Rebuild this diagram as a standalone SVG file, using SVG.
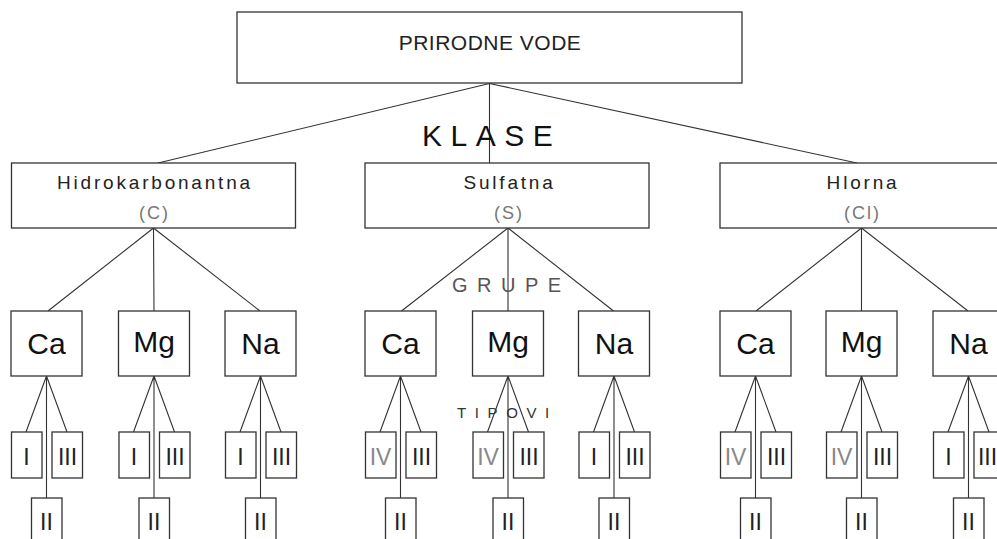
<svg xmlns="http://www.w3.org/2000/svg" width="997" height="539" viewBox="0 0 997 539">
<style>
rect{fill:#fff;stroke:#333;stroke-width:1.3}
.c path{fill:none;stroke:#333;stroke-width:1.1}
text{font-family:"Liberation Sans",Arial,sans-serif;text-anchor:middle;fill:#222}
.top{font-size:21px;letter-spacing:0.5px}
.cls{font-size:19px;letter-spacing:2.8px}
.sub{font-size:18px;fill:#777;letter-spacing:2px}
.grp{font-size:30px;fill:#111}
.t{font-size:23px;fill:#222}
.tg{font-size:23px;fill:#888}
.lab{text-anchor:start}
</style>
<rect width="997" height="539" style="fill:#fff;stroke:none"/>
<g class="c" id="connectors">
<path d="M489.5 83.5 L158 163 M489.5 83.5 V163 M489.5 83.5 L857 163"/>
<path d="M153.5 228 L48 311 M153.5 228 L154 311 M153.5 228 L260 311"/>
<path d="M508 228 L401.5 311 M508 228 V311 M508 228 L613.5 311"/>
<path d="M861.5 228 L756 311 M861.5 228 V311 M861.5 228 L968 311"/>
<path transform="translate(46.5 0)" d="M0 376 L-20.5 432 M0 376 L20.5 432 M0 376 V498"/>
<path transform="translate(154 0)" d="M0 376 L-20.5 432 M0 376 L20.5 432 M0 376 V498"/>
<path transform="translate(260.5 0)" d="M0 376 L-20.5 432 M0 376 L20.5 432 M0 376 V498"/>
<path transform="translate(400.5 0)" d="M0 376 L-20.5 432 M0 376 L20.5 432 M0 376 V498"/>
<path transform="translate(508 0)" d="M0 376 L-20.5 432 M0 376 L20.5 432 M0 376 V498"/>
<path transform="translate(614 0)" d="M0 376 L-20.5 432 M0 376 L20.5 432 M0 376 V498"/>
<path transform="translate(755.5 0)" d="M0 376 L-20.5 432 M0 376 L20.5 432 M0 376 V498"/>
<path transform="translate(861.5 0)" d="M0 376 L-20.5 432 M0 376 L20.5 432 M0 376 V498"/>
<path transform="translate(968.5 0)" d="M0 376 L-20.5 432 M0 376 L20.5 432 M0 376 V498"/>
</g>
<g id="labels">
<text class="lab" x="422" y="145.5" style="font-size:30px;letter-spacing:8.5px;fill:#111">KLASE</text>
<text class="lab" x="452" y="292" style="font-size:20px;letter-spacing:9.5px;fill:#555">GRUPE</text>
<text class="lab" x="457" y="418" style="font-size:15px;letter-spacing:8.6px;fill:#333">TIPOVI</text>
</g>
<g id="prirodne-vode"><rect x="237" y="12" width="505" height="71"/><text class="top" x="490" y="50">PRIRODNE VODE</text></g>
<g id="hidrokarbonantna"><rect x="11.5" y="163" width="284" height="65"/><text class="cls" x="155" y="189">Hidrokarbonantna</text><text class="sub" x="154.5" y="219">(C)</text></g>
<g id="sulfatna"><rect x="365" y="163" width="284" height="65"/><text class="cls" x="509.5" y="189">Sulfatna</text><text class="sub" x="509" y="219">(S)</text></g>
<g id="hlorna"><rect x="720" y="163" width="284" height="65"/><text class="cls" x="863" y="189">Hlorna</text><text class="sub" x="862.5" y="219">(Cl)</text></g>

<g id="c-ca" transform="translate(46.5 0)"><rect x="-35.5" y="311" width="71" height="65"/><text class="grp" x="0" y="354">Ca</text></g>
<g id="c-mg" transform="translate(154 0)"><rect x="-35.5" y="311" width="71" height="65"/><text class="grp" x="0" y="352">Mg</text></g>
<g id="c-na" transform="translate(260.5 0)"><rect x="-35.5" y="311" width="71" height="65"/><text class="grp" x="0" y="354">Na</text></g>
<g id="s-ca" transform="translate(400.5 0)"><rect x="-35.5" y="311" width="71" height="65"/><text class="grp" x="0" y="354">Ca</text></g>
<g id="s-mg" transform="translate(508 0)"><rect x="-35.5" y="311" width="71" height="65"/><text class="grp" x="0" y="352">Mg</text></g>
<g id="s-na" transform="translate(614 0)"><rect x="-35.5" y="311" width="71" height="65"/><text class="grp" x="0" y="354">Na</text></g>
<g id="cl-ca" transform="translate(755.5 0)"><rect x="-35.5" y="311" width="71" height="65"/><text class="grp" x="0" y="354">Ca</text></g>
<g id="cl-mg" transform="translate(861.5 0)"><rect x="-35.5" y="311" width="71" height="65"/><text class="grp" x="0" y="352">Mg</text></g>
<g id="cl-na" transform="translate(968.5 0)"><rect x="-35.5" y="311" width="71" height="65"/><text class="grp" x="0" y="354">Na</text></g>

<g id="c-ca-types" transform="translate(46.5 0)">
<g id="c-ca-1"><rect x="-35" y="432" width="30.5" height="46"/><text class="t" x="-20" y="465">I</text></g>
<g id="c-ca-3"><rect x="5.5" y="432" width="30.5" height="46"/><text class="t" x="21" y="465">III</text></g>
<g id="c-ca-2"><rect x="-15" y="498" width="30.5" height="50"/><text class="t" x="0" y="529.5">II</text></g>
</g>
<g id="c-mg-types" transform="translate(154 0)">
<g id="c-mg-1"><rect x="-35" y="432" width="30.5" height="46"/><text class="t" x="-20" y="465">I</text></g>
<g id="c-mg-3"><rect x="5.5" y="432" width="30.5" height="46"/><text class="t" x="21" y="465">III</text></g>
<g id="c-mg-2"><rect x="-15" y="498" width="30.5" height="50"/><text class="t" x="0" y="529.5">II</text></g>
</g>
<g id="c-na-types" transform="translate(260.5 0)">
<g id="c-na-1"><rect x="-35" y="432" width="30.5" height="46"/><text class="t" x="-20" y="465">I</text></g>
<g id="c-na-3"><rect x="5.5" y="432" width="30.5" height="46"/><text class="t" x="21" y="465">III</text></g>
<g id="c-na-2"><rect x="-15" y="498" width="30.5" height="50"/><text class="t" x="0" y="529.5">II</text></g>
</g>
<g id="s-ca-types" transform="translate(400.5 0)">
<g id="s-ca-4"><rect x="-35" y="432" width="30.5" height="46"/><text class="tg" x="-20" y="465">IV</text></g>
<g id="s-ca-3"><rect x="5.5" y="432" width="30.5" height="46"/><text class="t" x="21" y="465">III</text></g>
<g id="s-ca-2"><rect x="-15" y="498" width="30.5" height="50"/><text class="t" x="0" y="529.5">II</text></g>
</g>
<g id="s-mg-types" transform="translate(508 0)">
<g id="s-mg-4"><rect x="-35" y="432" width="30.5" height="46"/><text class="tg" x="-20" y="465">IV</text></g>
<g id="s-mg-3"><rect x="5.5" y="432" width="30.5" height="46"/><text class="t" x="21" y="465">III</text></g>
<g id="s-mg-2"><rect x="-15" y="498" width="30.5" height="50"/><text class="t" x="0" y="529.5">II</text></g>
</g>
<g id="s-na-types" transform="translate(614 0)">
<g id="s-na-1"><rect x="-35" y="432" width="30.5" height="46"/><text class="t" x="-20" y="465">I</text></g>
<g id="s-na-3"><rect x="5.5" y="432" width="30.5" height="46"/><text class="t" x="21" y="465">III</text></g>
<g id="s-na-2"><rect x="-15" y="498" width="30.5" height="50"/><text class="t" x="0" y="529.5">II</text></g>
</g>
<g id="cl-ca-types" transform="translate(755.5 0)">
<g id="cl-ca-4"><rect x="-35" y="432" width="30.5" height="46"/><text class="tg" x="-20" y="465">IV</text></g>
<g id="cl-ca-3"><rect x="5.5" y="432" width="30.5" height="46"/><text class="t" x="21" y="465">III</text></g>
<g id="cl-ca-2"><rect x="-15" y="498" width="30.5" height="50"/><text class="t" x="0" y="529.5">II</text></g>
</g>
<g id="cl-mg-types" transform="translate(861.5 0)">
<g id="cl-mg-4"><rect x="-35" y="432" width="30.5" height="46"/><text class="tg" x="-20" y="465">IV</text></g>
<g id="cl-mg-3"><rect x="5.5" y="432" width="30.5" height="46"/><text class="t" x="21" y="465">III</text></g>
<g id="cl-mg-2"><rect x="-15" y="498" width="30.5" height="50"/><text class="t" x="0" y="529.5">II</text></g>
</g>
<g id="cl-na-types" transform="translate(968.5 0)">
<g id="cl-na-1"><rect x="-35" y="432" width="30.5" height="46"/><text class="t" x="-20" y="465">I</text></g>
<g id="cl-na-3"><rect x="5.5" y="432" width="30.5" height="46"/><text class="t" x="19" y="465">III</text></g>
<g id="cl-na-2"><rect x="-15" y="498" width="30.5" height="50"/><text class="t" x="0" y="529.5">II</text></g>
</g>
</svg>
